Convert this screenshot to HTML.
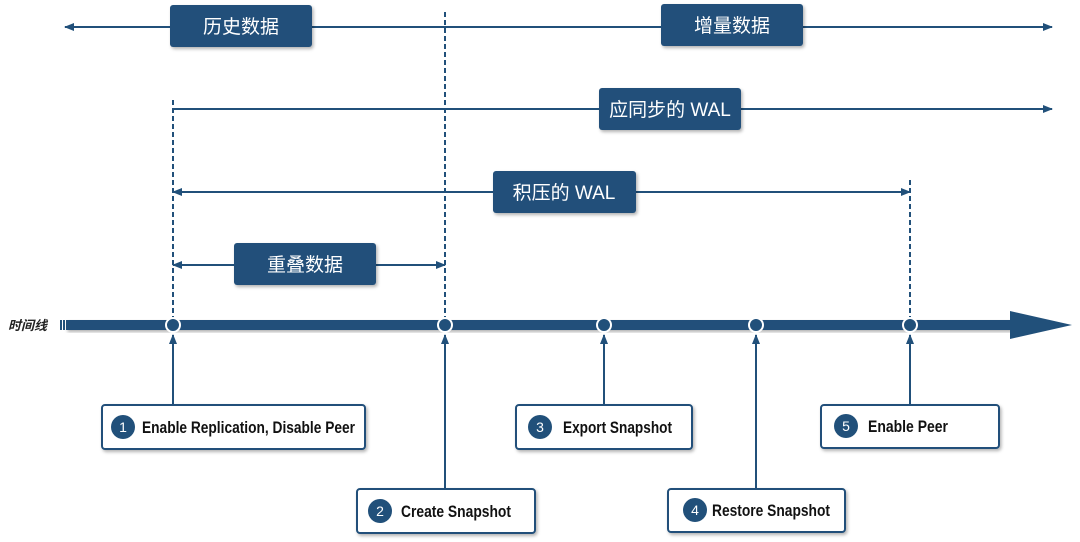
<!DOCTYPE html>
<html><head><meta charset="utf-8"><style>
html,body{margin:0;padding:0;background:#fff;width:1080px;height:542px;overflow:hidden}
svg{display:block}
.cj{font-family:"Liberation Sans","Noto Sans CJK SC",sans-serif;font-size:19px;fill:#fff}
.lb{font-family:"Liberation Sans Narrow","Liberation Sans",sans-serif;font-weight:bold;font-size:17px;fill:#111}
.nm{font-family:"Liberation Sans",sans-serif;font-size:14px;fill:#fff}
</style></head><body>
<svg width="1080" height="542" viewBox="0 0 1080 542">
<defs>
<marker id="a" markerWidth="10" markerHeight="8" refX="9" refY="4" orient="auto-start-reverse" markerUnits="userSpaceOnUse"><path d="M0,0 L10,4 L0,8 Z" fill="#21507a"/></marker>
<filter id="sh" x="-10%" y="-10%" width="130%" height="140%"><feDropShadow dx="1.5" dy="2" stdDeviation="1.5" flood-color="#000" flood-opacity="0.3"/></filter>
</defs>
<g stroke="#21507a" fill="none">
<line x1="65" y1="27" x2="1052" y2="27" stroke-width="2" marker-start="url(#a)" marker-end="url(#a)"/>
<line x1="173" y1="109" x2="1052" y2="109" stroke-width="2" marker-end="url(#a)"/>
<line x1="173" y1="192" x2="910" y2="192" stroke-width="2" marker-start="url(#a)" marker-end="url(#a)"/>
<line x1="173" y1="265" x2="445" y2="265" stroke-width="2" marker-start="url(#a)" marker-end="url(#a)"/>
<line x1="445" y1="12" x2="445" y2="325" stroke-width="2" stroke-dasharray="5,3"/>
<line x1="173" y1="100" x2="173" y2="325" stroke-width="2" stroke-dasharray="5,3"/>
<line x1="910" y1="180" x2="910" y2="325" stroke-width="2" stroke-dasharray="5,3"/>
<line x1="173" y1="405" x2="173" y2="335" stroke-width="2" marker-end="url(#a)"/>
<line x1="445" y1="489" x2="445" y2="335" stroke-width="2" marker-end="url(#a)"/>
<line x1="604" y1="405" x2="604" y2="335" stroke-width="2" marker-end="url(#a)"/>
<line x1="756" y1="489" x2="756" y2="335" stroke-width="2" marker-end="url(#a)"/>
<line x1="910" y1="405" x2="910" y2="335" stroke-width="2" marker-end="url(#a)"/>
</g>
<g fill="#21507a">
<rect x="60" y="320" width="2" height="10"/><rect x="63" y="320" width="2" height="10"/>
<rect x="66" y="320" width="950" height="10" filter="url(#sh)"/>
<path d="M1010,311 L1072,325 L1010,339 Z"/>
</g>
<text x="8" y="330" font-family="Liberation Sans,Noto Sans CJK SC,sans-serif" font-size="13" font-style="italic" font-weight="bold" fill="#222">时间线</text>
<g fill="#21507a" stroke="#fff" stroke-width="2">
<circle cx="173" cy="325" r="7"/><circle cx="445" cy="325" r="7"/><circle cx="604" cy="325" r="7"/><circle cx="756" cy="325" r="7"/><circle cx="910" cy="325" r="7"/>
</g>
<g fill="#21507a" filter="url(#sh)">
<rect x="170" y="5" width="142" height="42" rx="3"/>
<rect x="661" y="4" width="142" height="42" rx="3"/>
<rect x="599" y="88" width="142" height="42" rx="3"/>
<rect x="493" y="171" width="143" height="42" rx="3"/>
<rect x="234" y="243" width="142" height="42" rx="3"/>
</g>
<text class="cj" x="241" y="33" text-anchor="middle">历史数据</text>
<text class="cj" x="732" y="32" text-anchor="middle">增量数据</text>
<text class="cj" x="670" y="116" text-anchor="middle">应同步的 WAL</text>
<text class="cj" x="564" y="199" text-anchor="middle">积压的 WAL</text>
<text class="cj" x="305" y="271" text-anchor="middle">重叠数据</text>
<g fill="#fff" stroke="#21507a" stroke-width="2" filter="url(#sh)">
<rect x="102" y="405" width="263" height="44" rx="3"/>
<rect x="516" y="405" width="176" height="44" rx="3"/>
<rect x="821" y="405" width="178" height="43" rx="3"/>
<rect x="357" y="489" width="178" height="44" rx="3"/>
<rect x="668" y="489" width="177" height="43" rx="3"/>
</g>
<g fill="#21507a">
<circle cx="123" cy="427" r="12"/><circle cx="540" cy="427" r="12"/><circle cx="846" cy="426" r="12"/><circle cx="380" cy="511" r="12"/><circle cx="695" cy="510" r="12"/>
</g>
<text class="nm" x="123" y="432" text-anchor="middle">1</text>
<text class="nm" x="540" y="432" text-anchor="middle">3</text>
<text class="nm" x="846" y="431" text-anchor="middle">5</text>
<text class="nm" x="380" y="516" text-anchor="middle">2</text>
<text class="nm" x="695" y="515" text-anchor="middle">4</text>
<text class="lb" x="142" y="433" textLength="213" lengthAdjust="spacingAndGlyphs">Enable Replication, Disable Peer</text>
<text class="lb" x="563" y="433" textLength="109" lengthAdjust="spacingAndGlyphs">Export Snapshot</text>
<text class="lb" x="868" y="432" textLength="80" lengthAdjust="spacingAndGlyphs">Enable Peer</text>
<text class="lb" x="401" y="517" textLength="110" lengthAdjust="spacingAndGlyphs">Create Snapshot</text>
<text class="lb" x="712" y="516" textLength="118" lengthAdjust="spacingAndGlyphs">Restore Snapshot</text>
</svg>
</body></html>
